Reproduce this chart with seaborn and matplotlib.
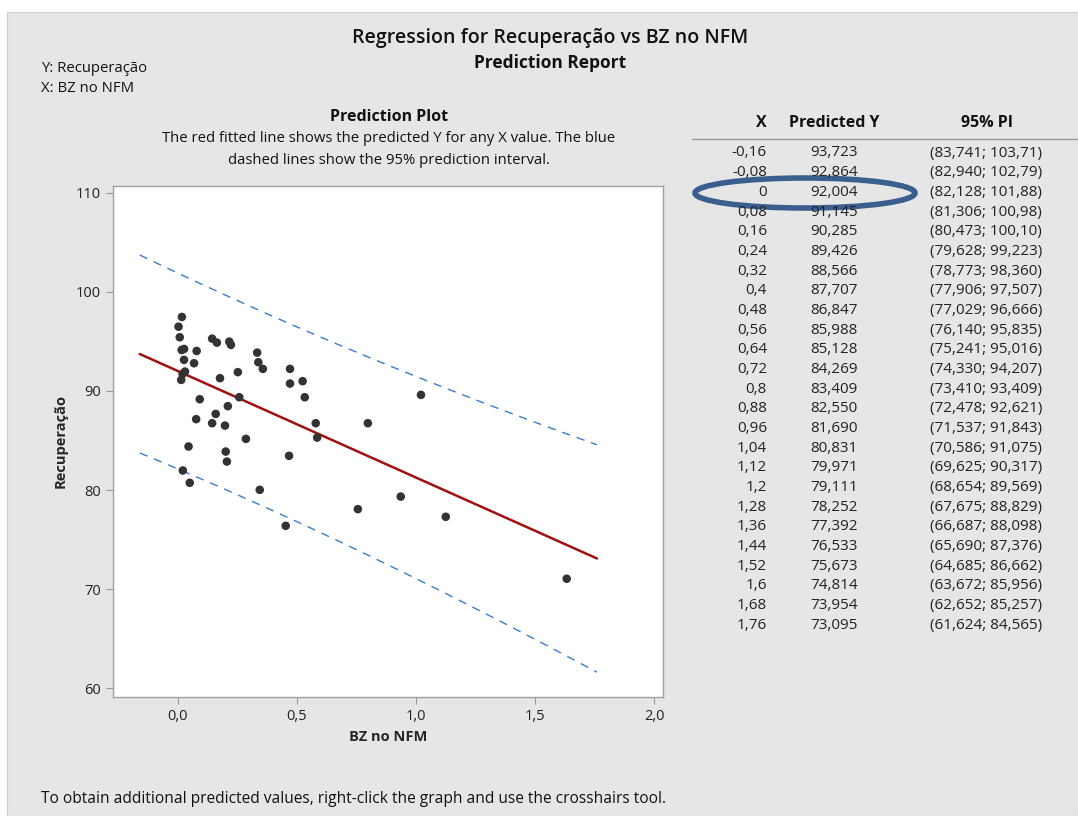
import numpy as np
import pandas as pd
import seaborn as sns
import matplotlib.pyplot as plt
from matplotlib.patches import Ellipse, Rectangle
from matplotlib.ticker import FuncFormatter

bz = [0.017, 0.003, 0.008, 0.016, 0.026, 0.079, 0.026, 0.068, 0.030, 0.020,
      0.014, 0.144, 0.164, 0.216, 0.223, 0.177, 0.252, 0.333, 0.338, 0.357,
      0.471, 0.471, 0.524, 0.533, 0.258, 0.092, 0.210, 0.159, 0.077, 0.144,
      0.198, 0.579, 0.585, 0.286, 0.045, 0.201, 0.206, 0.467, 0.021, 0.050,
      0.344, 1.021, 0.798, 0.936, 0.756, 1.125, 0.453, 1.633]
recup = [97.46, 96.48, 95.41, 94.13, 94.23, 94.03, 93.13, 92.79, 91.95, 91.71,
         91.11, 95.27, 94.87, 94.97, 94.64, 91.28, 91.89, 93.86, 92.89, 92.22,
         92.22, 90.74, 90.98, 89.36, 89.36, 89.16, 88.46, 87.68, 87.15, 86.74,
         86.50, 86.74, 85.29, 85.16, 84.39, 83.88, 82.87, 83.45, 81.97, 80.73,
         80.02, 89.60, 86.74, 79.34, 78.07, 77.30, 76.39, 71.05]

# prediction table
x_pred = [-0.16, -0.08, 0, 0.08, 0.16, 0.24, 0.32, 0.4, 0.48, 0.56, 0.64, 0.72,
          0.8, 0.88, 0.96, 1.04, 1.12, 1.2, 1.28, 1.36, 1.44, 1.52, 1.6, 1.68, 1.76]
y_pred = [93.723, 92.864, 92.004, 91.145, 90.285, 89.426, 88.566, 87.707, 86.847,
          85.988, 85.128, 84.269, 83.409, 82.550, 81.690, 80.831, 79.971, 79.111,
          78.252, 77.392, 76.533, 75.673, 74.814, 73.954, 73.095]
pi_low = [83.741, 82.940, 82.128, 81.306, 80.473, 79.628, 78.773, 77.906, 77.029,
          76.140, 75.241, 74.330, 73.410, 72.478, 71.537, 70.586, 69.625, 68.654,
          67.675, 66.687, 65.690, 64.685, 63.672, 62.652, 61.624]
pi_high = [103.71, 102.79, 101.88, 100.98, 100.10, 99.223, 98.360, 97.507, 96.666,
           95.835, 95.016, 94.207, 93.409, 92.621, 91.843, 91.075, 90.317, 89.569,
           88.829, 88.098, 87.376, 86.662, 85.956, 85.257, 84.565]
x_txt = ["-0,16", "-0,08", "0", "0,08", "0,16", "0,24", "0,32", "0,4", "0,48", "0,56",
         "0,64", "0,72", "0,8", "0,88", "0,96", "1,04", "1,12", "1,2", "1,28", "1,36",
         "1,44", "1,52", "1,6", "1,68", "1,76"]
y_txt = ["93,723", "92,864", "92,004", "91,145", "90,285", "89,426", "88,566", "87,707",
         "86,847", "85,988", "85,128", "84,269", "83,409", "82,550", "81,690", "80,831",
         "79,971", "79,111", "78,252", "77,392", "76,533", "75,673", "74,814", "73,954",
         "73,095"]
pi_txt = ["(83,741; 103,71)", "(82,940; 102,79)", "(82,128; 101,88)", "(81,306; 100,98)",
          "(80,473; 100,10)", "(79,628; 99,223)", "(78,773; 98,360)", "(77,906; 97,507)",
          "(77,029; 96,666)", "(76,140; 95,835)", "(75,241; 95,016)", "(74,330; 94,207)",
          "(73,410; 93,409)", "(72,478; 92,621)", "(71,537; 91,843)", "(70,586; 91,075)",
          "(69,625; 90,317)", "(68,654; 89,569)", "(67,675; 88,829)", "(66,687; 88,098)",
          "(65,690; 87,376)", "(64,685; 86,662)", "(63,672; 85,956)", "(62,652; 85,257)",
          "(61,624; 84,565)"]

sns.set_style("white")
plt.rcParams['font.family'] = ['Open Sans', 'DejaVu Sans']

W, H = 1078, 816
fig = plt.figure(figsize=(W / 100, H / 100), dpi=100, facecolor="white")
bg = "#e6e6e6"
fig.patches.append(Rectangle((7 / W, 0), 1 - 7 / W, 1 - 12 / H, transform=fig.transFigure,
                             facecolor=bg, edgecolor="#d0d0d0", lw=0.8, zorder=-10))

def px(x, y):
    return x / W, 1 - y / H

ax = fig.add_axes([113.3 / W, 1 - 696.7 / H, (663.4 - 113.3) / W, (696.7 - 185.7) / H])
ax.set_facecolor("white")

pts = pd.DataFrame({"BZ no NFM": bz, "Recuperação": recup})
fit = pd.DataFrame({"x": x_pred, "y": y_pred, "lo": pi_low, "hi": pi_high})

sns.lineplot(data=fit, x="x", y="lo", ax=ax, color="#3a7bd0", lw=1.0)
sns.lineplot(data=fit, x="x", y="hi", ax=ax, color="#3a7bd0", lw=1.0)
for l in ax.lines:
    l.set_dashes((6, 5))
sns.lineplot(data=fit, x="x", y="y", ax=ax, color="#a01010", lw=1.8)
sns.scatterplot(data=pts, x="BZ no NFM", y="Recuperação", ax=ax, color="#333333",
                s=38, edgecolor="none", zorder=5)

ax.set_xlim(-0.271, 2.039)
ax.set_ylim(59.15, 110.7)
ax.set_xticks([0, 0.5, 1.0, 1.5, 2.0])
ax.set_yticks([60, 70, 80, 90, 100, 110])
ax.xaxis.set_major_formatter(FuncFormatter(lambda v, p: f"{v:.1f}".replace(".", ",")))
ax.yaxis.set_major_formatter(FuncFormatter(lambda v, p: f"{v:.0f}"))
ax.tick_params(axis="both", length=5, width=0.8, color="#999999", labelsize=10.5,
               labelcolor="#222222", bottom=True, left=True, pad=4)
for s in ax.spines.values():
    s.set_color("#a0a0a0")
    s.set_linewidth(1.0)
ax.set_xlabel("BZ no NFM", fontsize=10.5, fontweight="bold", labelpad=4)
ax.set_ylabel("Recuperação", fontsize=10.5, fontweight="bold", labelpad=6)

# header texts
fig.text(*px(550, 38), "Regression for Recuperação vs BZ no NFM", ha="center", va="center",
         fontsize=14, fontweight="semibold", color="#111111")
fig.text(*px(550, 63), "Prediction Report", ha="center", va="center", fontsize=12.5,
         fontweight="bold", color="#111111")
fig.text(*px(41, 68), "Y: Recuperação", ha="left", va="center", fontsize=10.7, color="#111111")
fig.text(*px(41, 88), "X: BZ no NFM", ha="left", va="center", fontsize=10.7, color="#111111")
fig.text(*px(389, 117), "Prediction Plot", ha="center", va="center", fontsize=11.5,
         fontweight="bold", color="#111111")
fig.text(*px(389, 139), "The red fitted line shows the predicted Y for any X value. The blue",
         ha="center", va="center", fontsize=10.7, color="#111111")
fig.text(*px(389, 160), "dashed lines show the 95% prediction interval.",
         ha="center", va="center", fontsize=10.7, color="#111111")
fig.text(*px(41, 799), "To obtain additional predicted values, right-click the graph and use the crosshairs tool.",
         ha="left", va="center", fontsize=11.2, color="#111111")

# table
fig.text(*px(767, 123), "X", ha="right", va="center", fontsize=11.5, fontweight="bold", color="#111111")
fig.text(*px(834, 123), "Predicted Y", ha="center", va="center", fontsize=11.5, fontweight="bold", color="#111111")
fig.text(*px(987, 123), "95% PI", ha="center", va="center", fontsize=11.5, fontweight="bold", color="#111111")
fig.add_artist(plt.Line2D([692 / W, 1078 / W], [1 - 139 / H, 1 - 139 / H], transform=fig.transFigure,
                          color="#999999", lw=1.0))
for i in range(len(x_txt)):
    yy = 153 + i * 19.67
    fig.text(*px(767, yy), x_txt[i], ha="right", va="center", fontsize=11, color="#222222")
    fig.text(*px(834, yy), y_txt[i], ha="center", va="center", fontsize=11, color="#222222")
    fig.text(*px(986, yy), pi_txt[i], ha="center", va="center", fontsize=11, color="#222222")

fig.add_artist(Ellipse(px(805, 193), 220 / W, 30 / H, transform=fig.transFigure,
                       facecolor="none", edgecolor="#3a5f8f", lw=4))

fig.savefig("out.png", dpi=100, facecolor="white")
